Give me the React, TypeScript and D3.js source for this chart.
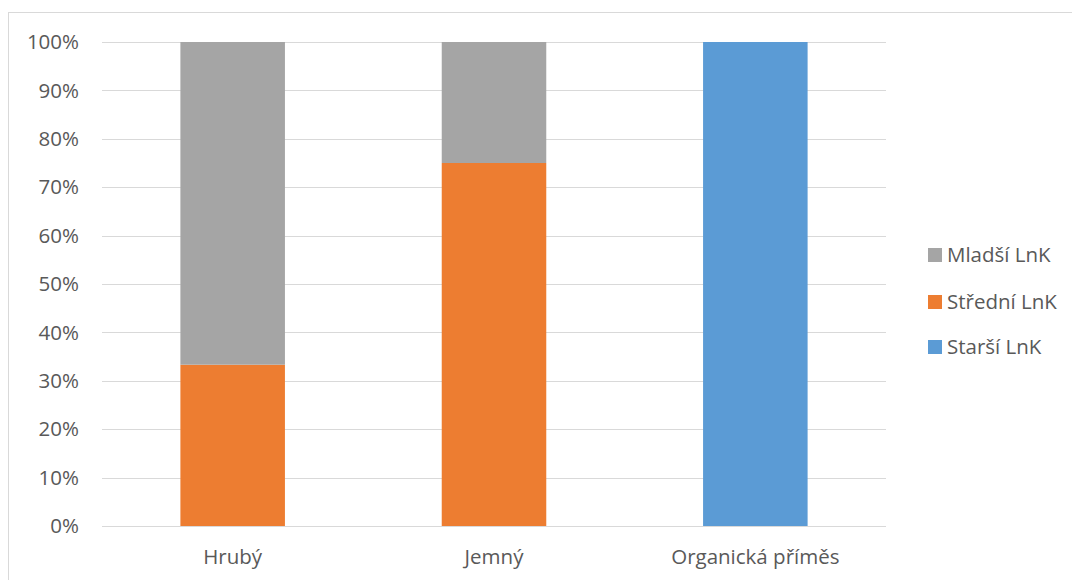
import React from "react";
import * as d3 from "d3";

const categories = ["Hrubý", "Jemný", "Organická příměs"];
const seriesNames = ["Starší LnK", "Střední LnK", "Mladší LnK"];
const starsi = [0, 0, 100];
const stredni = [33.33, 75, 0];
const mladsi = [66.67, 25, 0];
const seriesColors = ["#5b9bd5", "#ed7d31", "#a5a5a5"];
const yTicks = [0, 10, 20, 30, 40, 50, 60, 70, 80, 90, 100];

const W = 1072;
const H = 580;
const plot = { left: 102, right: 886, top: 42, bottom: 526 };
const font = "'Open Sans', 'DejaVu Sans', sans-serif";
const fontSize = 20.5;
const textColor = "#595959";
const gridColor = "#d9d9d9";

export default function App() {
  const rows = categories.map((c, i) => ({
    cat: c,
    "Starší LnK": starsi[i],
    "Střední LnK": stredni[i],
    "Mladší LnK": mladsi[i],
  }));
  const stack = d3.stack<any>().keys(seriesNames);
  const layers = stack(rows);

  const x = d3
    .scaleBand()
    .domain(categories)
    .range([plot.left, plot.right])
    .paddingInner(0.6)
    .paddingOuter(0.3);
  const y = d3.scaleLinear().domain([0, 100]).range([plot.bottom, plot.top]);

  const legendOrder = [2, 1, 0];
  const legendY = [255, 302, 347];

  return (
    <div style={{ position: "absolute", left: 0, top: 0 }}>
      <svg width={W} height={H} style={{ display: "block" }}>
        <rect x={0} y={0} width={W} height={H} fill="#ffffff" />
        <rect
          x={8.5}
          y={12.5}
          width={W + 20}
          height={H + 20}
          fill="#ffffff"
          stroke={gridColor}
          strokeWidth={1}
        />
        {yTicks.map((t) => (
          <g key={t}>
            <line
              x1={plot.left}
              x2={plot.right}
              y1={Math.round(y(t)) + 0.5}
              y2={Math.round(y(t)) + 0.5}
              stroke={gridColor}
              strokeWidth={1}
            />
            <text
              x={79}
              y={y(t)}
              dy="0.35em"
              textAnchor="end"
              fontFamily={font}
              fontSize={fontSize}
              fill={textColor}
            >
              {t}%
            </text>
          </g>
        ))}
        {layers.map((layer, li) => (
          <g key={layer.key} fill={seriesColors[li]}>
            {layer.map((d, i) =>
              d[1] - d[0] > 0 ? (
                <rect
                  key={i}
                  x={x(categories[i])}
                  width={x.bandwidth()}
                  y={y(d[1])}
                  height={y(d[0]) - y(d[1])}
                />
              ) : null
            )}
          </g>
        ))}
        {categories.map((c) => (
          <text
            key={c}
            x={(x(c) as number) + x.bandwidth() / 2}
            y={557}
            dy="0.35em"
            textAnchor="middle"
            fontFamily={font}
            fontSize={fontSize}
            fill={textColor}
          >
            {c}
          </text>
        ))}
        {legendOrder.map((si, k) => (
          <g key={si}>
            <rect
              x={928}
              y={legendY[k] - 7}
              width={14}
              height={14}
              fill={seriesColors[si]}
            />
            <text
              x={947}
              y={legendY[k]}
              dy="0.35em"
              fontFamily={font}
              fontSize={fontSize}
              fill={textColor}
            >
              {seriesNames[si]}
            </text>
          </g>
        ))}
      </svg>
    </div>
  );
}
